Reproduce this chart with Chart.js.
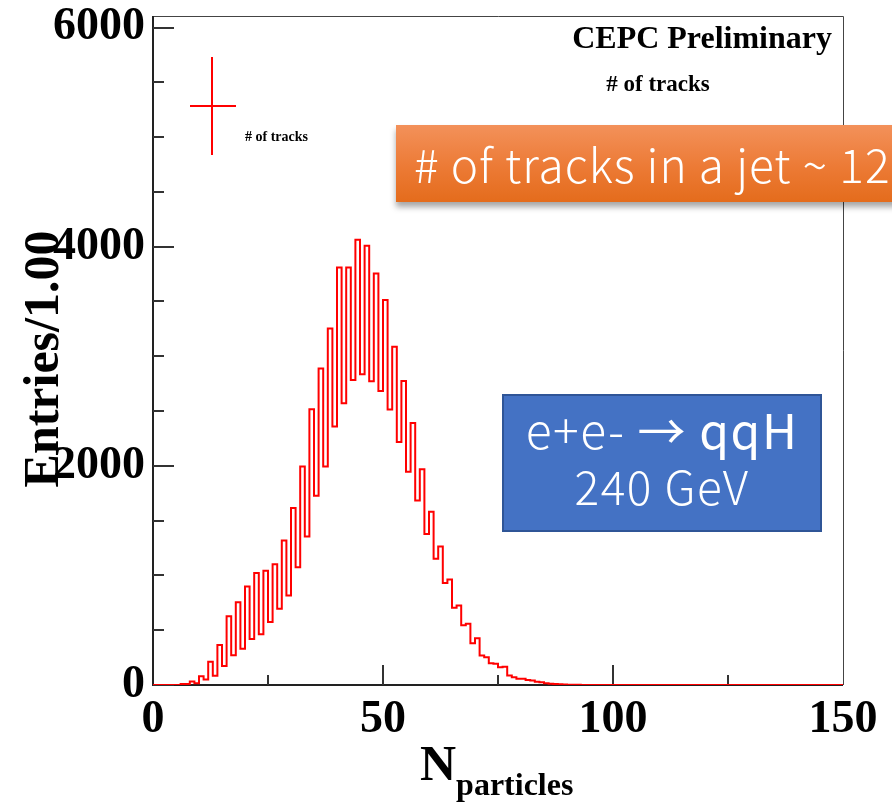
<!DOCTYPE html>
<html>
<head>
<meta charset="utf-8">
<title>Number of tracks</title>
<script src="https://cdn.jsdelivr.net/npm/chart.js@4.4.1/dist/chart.umd.min.js"></script>
<style>
  html, body { margin: 0; padding: 0; background: #fff; overflow: hidden; }
  #wrap { position: relative; width: 892px; height: 806px; overflow: hidden; }
  #histChart { position: absolute; left: 0; top: 0; }
  .note-orange {
    position: absolute; left: 396px; top: 125px; width: 520px; height: 77px;
    background: linear-gradient(to bottom, #f3915a 0%, #ec7a35 55%, #e46c1c 100%);
    box-shadow: 0 5px 6px rgba(0, 0, 0, 0.35);
    color: #fff; font-family: "Noto Sans CJK SC", "Noto Sans", sans-serif; font-weight: 300;
    font-size: 46px; letter-spacing: 1px; line-height: 77px; padding-left: 18px; box-sizing: border-box; white-space: nowrap;
  }
  .note-blue {
    position: absolute; left: 502px; top: 394px; width: 320px; height: 138px;
    background: #4472c4; border: 2px solid #2f5597; box-sizing: border-box;
    color: #fff; font-family: "Noto Sans CJK SC", "Noto Sans", sans-serif; text-align: center;
  }
  .note-blue .l1 { position: absolute; left: 0; right: 0; top: 3px; font-size: 48px; letter-spacing: 1.5px; line-height: 58px; font-weight: 300; white-space: nowrap; }
  .note-blue .l1 b { font-weight: 400; }
  .note-blue .l2 { position: absolute; left: 0; right: 0; top: 61px; font-size: 46px; letter-spacing: 1.5px; line-height: 56px; font-weight: 300; white-space: nowrap; }
</style>
</head>
<body>
<div id="wrap">
  <canvas id="histChart" width="892" height="806"></canvas>
  <div class="note-orange"># of tracks in a jet ~ 12</div>
  <div class="note-blue">
    <div class="l1">e+e- <b>→ qqH</b></div>
    <div class="l2">240 GeV</div>
  </div>
</div>
<script>
  // Entries per bin of N_particles, bins of width 1 starting at 0
  const binLow = 0;
  const binWidth = 1;
  const counts = [
    0, 0, 0, 0, 0, 0, 8, 8, 32, 15,
    80, 50, 212, 84, 366, 174, 628, 271, 755, 330,
    898, 420, 1022, 462, 1042, 576, 1103, 695, 1319, 816,
    1616, 1074, 1994, 1355, 2516, 1728, 2889, 1995, 3254, 2360,
    3810, 2570, 3810, 2783, 4063, 2835, 4008, 2771, 3756, 2683,
    3513, 2513, 3087, 2218, 2774, 1947, 2391, 1683, 1968, 1379,
    1582, 1151, 1263, 930, 962, 705, 725, 545, 558, 381,
    427, 269, 254, 199, 193, 162, 166, 87, 71, 56,
    58, 45, 40, 30, 25, 15, 12, 8, 6, 4,
    3, 2, 2, 1, 1, 0, 0, 0, 0, 0,
    0, 0, 0, 0, 0, 0, 0, 0, 0, 0,
    0, 0, 0, 0, 0, 0, 0, 0, 0, 0,
    0, 0, 0, 0, 0, 0, 0, 0, 0, 0,
    0, 0, 0, 0, 0, 0, 0, 0, 0, 0,
    0, 0, 0, 0, 0, 0, 0, 0, 0, 0
  ];

  const xTickValues = [0, 50, 100, 150];
  const yTickValues = [0, 2000, 4000, 6000];
  const xRange = [0, 150];
  const yRange = [0, 6105];
  const xTitle = 'N';
  const xTitleSub = 'particles';
  const yTitle = 'Entries/1.00';

  // step outline: one point per lower bin edge, plus the closing upper edge
  const points = counts.map((c, i) => ({ x: binLow + i * binWidth, y: c }));
  points.push({ x: binLow + counts.length * binWidth, y: counts[counts.length - 1] });

  const serif = "'Liberation Serif', 'Times New Roman', serif";

  // ROOT style frame: heavy left/bottom axes, thin top/right, ticks pointing inward
  const rootFrame = {
    id: 'rootFrame',
    beforeDatasetsDraw(chart) {
      const { ctx, chartArea: a, scales: { x, y } } = chart;
      ctx.save();
      ctx.strokeStyle = '#444';
      ctx.lineWidth = 1;
      ctx.beginPath();
      ctx.moveTo(a.left, a.top + 0.5);
      ctx.lineTo(a.right + 0.5, a.top + 0.5);
      ctx.lineTo(a.right + 0.5, a.bottom);
      ctx.stroke();

      ctx.strokeStyle = '#222';
      ctx.lineWidth = 2;
      ctx.beginPath();
      ctx.moveTo(a.left, a.top);
      ctx.lineTo(a.left, a.bottom);
      ctx.lineTo(a.right, a.bottom);
      ctx.stroke();

      ctx.lineWidth = 2;
      ctx.strokeStyle = '#333';
      ctx.beginPath();
      for (let v = 0; v <= yRange[1]; v += 500) {
        const py = Math.round(y.getPixelForValue(v));
        const len = v % 2000 === 0 ? 21 : 11;
        ctx.moveTo(a.left, py);
        ctx.lineTo(a.left + len, py);
      }
      for (let v = 25; v < xRange[1]; v += 25) {
        const px = Math.round(x.getPixelForValue(v));
        const len = v % 50 === 0 ? 20 : 10;
        ctx.moveTo(px, a.bottom);
        ctx.lineTo(px, a.bottom - len);
      }
      ctx.stroke();
      ctx.restore();
    },
    afterDraw(chart) {
      const { ctx } = chart;
      ctx.save();
      ctx.fillStyle = '#000';

      // header texts
      ctx.font = 'bold 32px ' + serif;
      ctx.textAlign = 'right';
      ctx.textBaseline = 'alphabetic';
      ctx.fillText('CEPC Preliminary', 832, 48);
      ctx.font = 'bold 23px ' + serif;
      ctx.textAlign = 'center';
      ctx.fillText('# of tracks', 658, 91);

      // legend entry: error-bar style cross
      ctx.strokeStyle = '#ff0000';
      ctx.lineWidth = 2;
      ctx.beginPath();
      ctx.moveTo(190, 106);
      ctx.lineTo(236, 106);
      ctx.moveTo(212, 57);
      ctx.lineTo(212, 155);
      ctx.stroke();
      ctx.font = 'bold 14px ' + serif;
      ctx.textAlign = 'left';
      ctx.fillText('# of tracks', 245, 141);

      // x axis title with subscript
      ctx.font = 'bold 50px ' + serif;
      ctx.fillText(xTitle, 420, 780);
      const nw = ctx.measureText(xTitle).width;
      ctx.font = 'bold 32px ' + serif;
      ctx.fillText(xTitleSub, 420 + nw, 795);

      // y axis title, rotated, overlapping the tick labels as ROOT draws it
      ctx.translate(58, 359);
      ctx.rotate(-Math.PI / 2);
      ctx.font = 'bold 50px ' + serif;
      ctx.textAlign = 'center';
      ctx.fillText(yTitle, 0, 0);
      ctx.restore();
    }
  };

  const ctx = document.getElementById('histChart').getContext('2d');
  const histChart = new Chart(ctx, {
    type: 'line',
    data: {
      datasets: [{
        data: points,
        borderColor: '#ff0000',
        borderWidth: 2,
        stepped: 'before',
        pointRadius: 0,
        fill: false,
        tension: 0
      }]
    },
    options: {
      responsive: false,
      animation: false,
      devicePixelRatio: 1,
      layout: { padding: { top: 16, right: 49, left: 0, bottom: 0 } },
      plugins: {
        legend: { display: false },
        tooltip: { enabled: false }
      },
      scales: {
        x: {
          type: 'linear',
          min: xRange[0],
          max: xRange[1],
          grid: { display: false, drawTicks: false },
          border: { display: false },
          ticks: {
            color: '#000',
            padding: 8,
            maxRotation: 0,
            callback: (v) => String(v),
            font: { family: serif, size: 46, weight: 'bold' }
          },
          afterBuildTicks: (scale) => { scale.ticks = xTickValues.map(v => ({ value: v })); },
          afterFit: (scale) => { scale.height = 121; scale.paddingLeft = 0; scale.paddingRight = 0; }
        },
        y: {
          min: yRange[0],
          max: yRange[1],
          grid: { display: false, drawTicks: false },
          border: { display: false },
          ticks: {
            color: '#000',
            padding: 8,
            callback: (v) => String(v),
            font: { family: serif, size: 46, weight: 'bold' }
          },
          afterBuildTicks: (scale) => { scale.ticks = yTickValues.map(v => ({ value: v })); },
          afterFit: (scale) => { scale.width = 153; scale.paddingTop = 0; scale.paddingBottom = 0; }
        }
      }
    },
    plugins: [rootFrame]
  });
</script>
</body>
</html>
